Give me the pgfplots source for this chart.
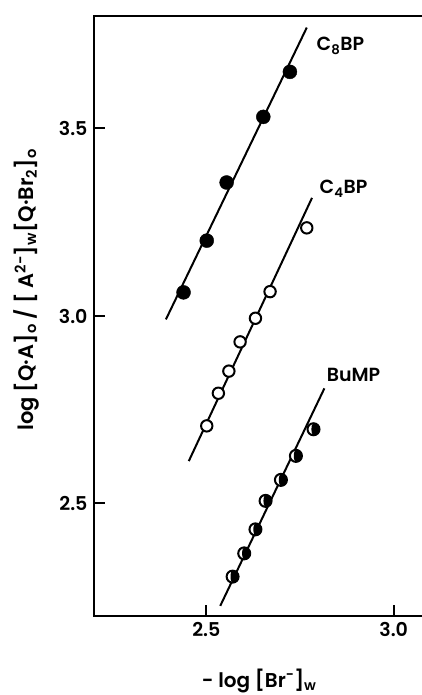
\documentclass[border=0pt]{standalone}
\usepackage{pgfplots}
\pgfplotsset{compat=1.18}
\usepackage{fontspec}
\setmainfont{Poppins}[BoldFont={Poppins SemiBold}]

% circle with the right part filled (BuMP)
\pgfdeclareplotmark{halfright}{%
  \pgfpathcircle{\pgfpointorigin}{\pgfplotmarksize}
  \pgfsetfillcolor{white}\pgfusepathqfillstroke
  \pgfpathmoveto{\pgfpoint{0pt}{\pgfplotmarksize}}
  \pgfpatharc{90}{-90}{\pgfplotmarksize}
  \pgfpatharc{270}{90}{0.35\pgfplotmarksize and \pgfplotmarksize}
  \pgfpathclose
  \pgfsetfillcolor{black}\pgfusepathqfill
}

\begin{document}
\begin{tikzpicture}
\begin{axis}[
    name=ax,
    x=374.6pt, y=375pt,
    xmin=2.2, xmax=3.12,
    ymin=2.2, ymax=3.8,
    xtick={2.5,3.0}, ytick={2.5,3.0,3.5},
    xtick pos=left, ytick pos=left,
    tick align=inside,
    major tick length=11pt,
    every tick/.style={black, line width=2pt},
    axis line style={line width=2.5pt},
    /pgf/number format/assume math mode=true,
    /pgf/number format/.cd, fixed, fixed zerofill, precision=1, /pgfplots/.cd,
    tick label style={font=\bfseries\fontsize{19}{22}\selectfont},
    xticklabel style={yshift=-3pt},
    yticklabel style={xshift=-3pt},
    xlabel={- log [Br\textsuperscript{−}]\textsubscript{w}},
    ylabel={log [Q·A]\textsubscript{o} / [ A\textsuperscript{2−}]\textsubscript{w}[Q·Br\textsubscript{2}]\textsubscript{o}},
    every axis x label/.style={at={(axis cs:2.641,2.2)}, anchor=base, yshift=-71pt,
        font=\bfseries\fontsize{20}{22}\selectfont},
    every axis y label/.style={at={(axis cs:2.2,3.07)}, anchor=center, rotate=90, yshift=68pt,
        font=\bfseries\fontsize{21}{24}\selectfont},
    clip=false
]

% C8BP
\addplot[black, line width=2pt] coordinates {(2.392,2.991) (2.768,3.769)};
\addplot[only marks, mark=*, mark size=7pt, black] coordinates {
    (2.439,3.063) (2.501,3.201) (2.554,3.356) (2.652,3.531) (2.723,3.651)
};

% C4BP
\addplot[black, line width=2pt] coordinates {(2.453,2.613) (2.782,3.315)};
\addplot[only marks, mark=*, mark size=5.7pt, mark options={fill=white, line width=2pt}, black] coordinates {
    (2.501,2.707) (2.532,2.794) (2.560,2.853) (2.590,2.931) (2.631,2.994) (2.670,3.065) (2.768,3.235)
};

% BuMP
\addplot[black, line width=2pt] coordinates {(2.537,2.227) (2.815,2.807)};
\addplot[only marks, mark=halfright, mark size=6pt, mark options={line width=2pt}, black] coordinates {
    (2.570,2.305) (2.601,2.367) (2.631,2.431) (2.658,2.507) (2.699,2.563) (2.739,2.627) (2.786,2.698)
};

\node[anchor=west, font=\bfseries\fontsize{19}{22}\selectfont] at (axis cs:2.785,3.72) {C\textsubscript{8}BP};
\node[anchor=west, font=\bfseries\fontsize{19}{22}\selectfont] at (axis cs:2.793,3.34) {C\textsubscript{4}BP};
\node[anchor=west, font=\bfseries\fontsize{19}{22}\selectfont] at (axis cs:2.812,2.843) {BuMP};
\end{axis}
\pgfresetboundingbox
\path[use as bounding box] (ax.south west) ++(-94pt,-79pt) rectangle ++(421pt,695pt);
\end{tikzpicture}
\end{document}
